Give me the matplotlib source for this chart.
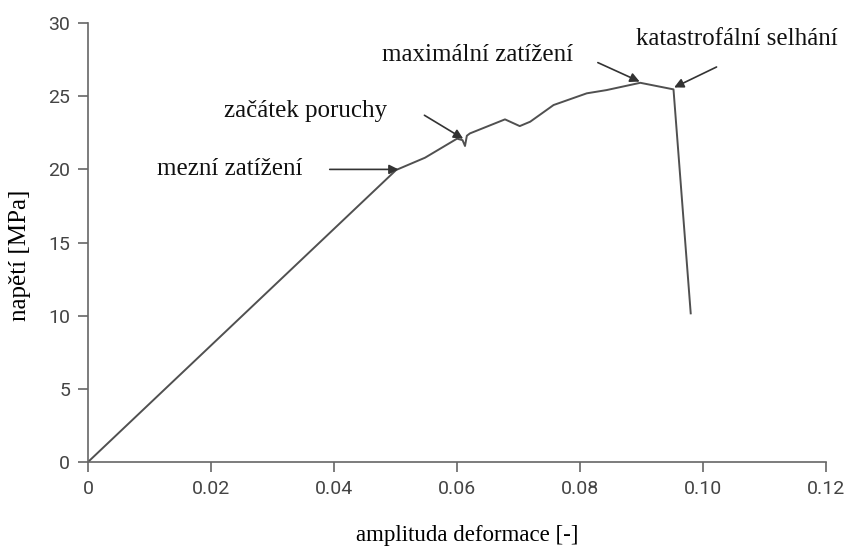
import numpy as np
import matplotlib.pyplot as plt

# stress-strain curve
strain = [0.0, 0.0501, 0.0548, 0.0600, 0.0609, 0.0613, 0.0616, 0.0621, 0.0678,
          0.0702, 0.0719, 0.0757, 0.0811, 0.0843, 0.0898, 0.0952, 0.0980]
stress = [0.0, 19.96, 20.8, 22.1, 22.0, 21.6, 22.3, 22.46, 23.42,
          22.96, 23.26, 24.40, 25.20, 25.42, 25.92, 25.47, 10.16]

xticks = [0, 0.02, 0.04, 0.06, 0.08, 0.10, 0.12]
xticklabels = ['0', '0.02', '0.04', '0.06', '0.08', '0.10', '0.12']
yticks = [0, 5, 10, 15, 20, 25, 30]

# label text, text position, arrow tip
notes = [
    ('mezní zatížení', (0.0231, 20.0), (0.0505, 20.0)),
    ('začátek poruchy', (0.0353, 24.0), (0.0610, 22.1)),
    ('maximální zatížení', (0.0633, 27.8), (0.0897, 26.0)),
    ('katastrofální selhání', (0.1055, 28.9), (0.0953, 25.6)),
]
arrow_tails = [(0.0393, 20.0), (0.0547, 23.7), (0.0829, 27.3), (0.1022, 27.0)]

fig = plt.figure(figsize=(8.52, 5.5), dpi=100)
ax = fig.add_axes([0.1033, 0.16, 0.8662, 0.798])

ax.plot(strain, stress, color='#505050', lw=1.4)

for (txt, tpos, tip), tail in zip(notes, arrow_tails):
    ax.text(tpos[0], tpos[1], txt, family='Liberation Serif', fontsize=18,
            ha='center', va='center', color='#111111')
    ax.annotate('', xy=tip, xytext=tail,
                arrowprops=dict(arrowstyle='-|>', color='#333333', lw=1.2,
                                mutation_scale=14, shrinkA=0, shrinkB=0))

ax.set_xlim(0, 0.12)
ax.set_ylim(0, 30)
ax.set_xticks(xticks)
ax.set_xticklabels(xticklabels)
ax.set_yticks(yticks)
for s in ['top', 'right']:
    ax.spines[s].set_visible(False)
for s in ['left', 'bottom']:
    ax.spines[s].set_color('#666666')
    ax.spines[s].set_linewidth(1.2)
ax.tick_params(direction='out', length=7, width=1.2, color='#666666',
               labelsize=14, labelcolor='#444444', pad=6)
for lab in ax.get_xticklabels() + ax.get_yticklabels():
    lab.set_family('Roboto')

ax.set_xlabel('amplituda deformace [-]', family='Liberation Serif', fontsize=16.5)
ax.xaxis.set_label_coords(0.514, -0.143)
ax.set_ylabel('napětí [MPa]', family='Liberation Serif', fontsize=18)
ax.yaxis.set_label_coords(-0.077, 0.47)

fig.savefig('out.png')
